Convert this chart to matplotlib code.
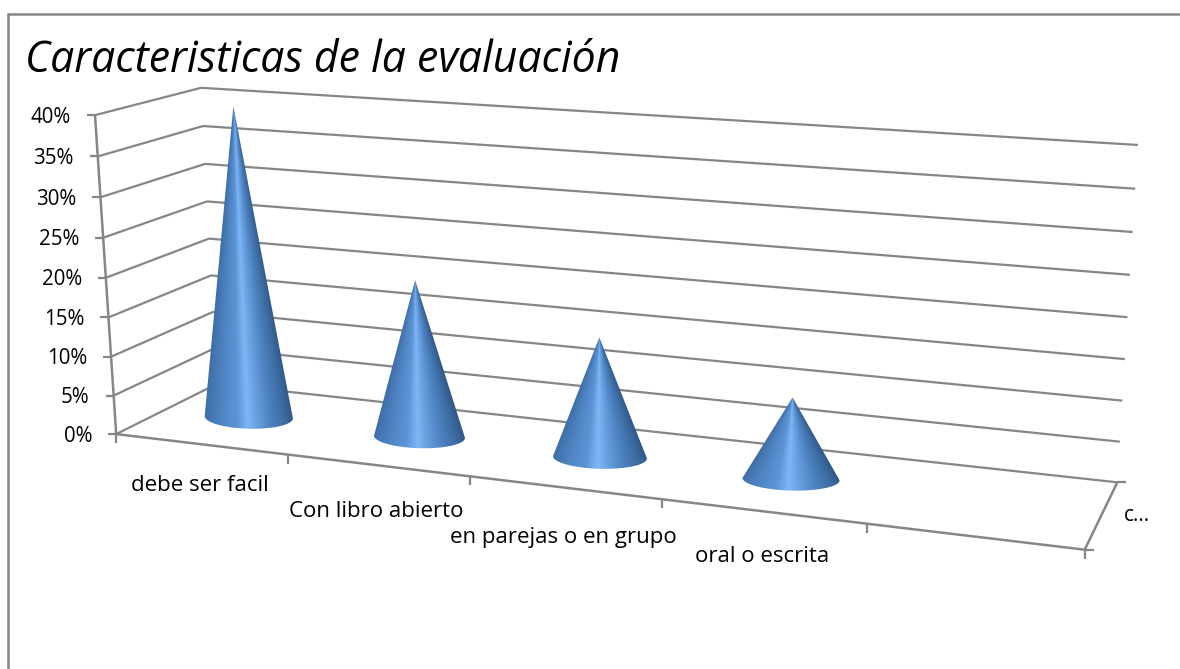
import numpy as np
import matplotlib
matplotlib.use('Agg')
import matplotlib.pyplot as plt
from matplotlib.colors import LinearSegmentedColormap
from matplotlib.patches import Polygon

# Data
title = "Caracteristicas de la evaluación"
categories = ["debe ser facil", "Con libro abierto", "en parejas o en grupo", "oral o escrita", ""]
values = [40, 20, 15, 10, 0]
percent_ticks = [0, 5, 10, 15, 20, 25, 30, 35, 40]
series_name = "c..."

GREY = '#868686'
W, H = 1180, 669
LABEL_DROP = [41, 46, 50, 45, 45]

# Fit the 3D view from the visible corners of the chart box: (category, depth, percent) -> pixel
world = np.array([[0, 0, 0], [0, 0, 40], [0, 1, 40], [0, 1, 0],
                  [5, 1, 40], [5, 1, 0], [5, 0, 0]], dtype=float)
pixel = np.array([[115, 433], [96, 116], [200, 87], [218, 385],
                  [1138, 145], [1117, 482], [1085, 550]], dtype=float)
rows = []
for (a, b, c), (px, py) in zip(world, pixel):
    rows.append([a, b, c, 1, 0, 0, 0, 0, -px * a, -px * b, -px * c, -px])
    rows.append([0, 0, 0, 0, a, b, c, 1, -py * a, -py * b, -py * c, -py])
P = np.linalg.svd(np.array(rows))[2][-1].reshape(3, 4)


def project(cat, depth, pct):
    q = P @ np.array([cat, depth, pct, 1.0])
    return q[0] / q[2], q[1] / q[2]


def seg(ax, a, b, lw=1.6):
    ax.plot([a[0], b[0]], [a[1], b[1]], color=GREY, lw=lw, solid_capstyle='butt', zorder=2)


def cone(ax, i, value, cmap):
    base_x, base_y = project(i + 0.49, 0.5, 0)
    tip_x, tip_y = project(i + 0.49, 0.5, value)
    # base width grows a little with the floor spacing
    spacing = project(i + 1, 0.5, 0)[0] - project(i, 0.5, 0)[0]
    hw = 20 + 0.145 * spacing
    hh = 11.5
    tilt = 0.025

    t = np.linspace(0, np.pi, 60)
    edge_x = base_x + hw * np.cos(t)
    edge_y = base_y + hh * np.sin(t) + tilt * hw * np.cos(t)
    outline = np.column_stack([np.r_[tip_x, edge_x], np.r_[tip_y, edge_y]])

    # shading follows the rays from tip to base
    x0, x1 = base_x - hw - 2, base_x + hw + 2
    y0, y1 = tip_y - 1, base_y + hh + 3
    xs, ys = np.meshgrid(np.linspace(x0, x1, 300), np.linspace(y0, y1, 400))
    frac = np.clip((ys - tip_y) / (base_y - tip_y), 1e-3, None)
    ray = (xs - (tip_x + (base_x - tip_x) * frac)) / (hw * frac)
    shade = np.clip((ray + 1) / 2, 0, 1)
    im = ax.imshow(shade, cmap=cmap, vmin=0, vmax=1, extent=[x0, x1, y1, y0],
                   aspect='auto', zorder=3, interpolation='bilinear')
    im.set_clip_path(Polygon(outline, closed=True, transform=ax.transData))


fig = plt.figure(figsize=(W / 100, H / 100), dpi=100)
ax = fig.add_axes([0, 0, 1, 1])
plt.rcParams['font.family'] = ['Open Sans', 'DejaVu Sans']

# outer chart frame
ax.plot([1180, 8, 8], [14, 14, 669], color=GREY, lw=1.8, solid_joinstyle='miter', zorder=1)

ax.text(25, 72, title, fontsize=30.8, style='italic', color='black', ha='left', va='baseline')

# walls and gridlines
n_cat = len(categories)
for pct in percent_ticks:
    front = project(0, 0, pct)
    corner = project(0, 1, pct)
    seg(ax, front, corner)
    seg(ax, corner, project(n_cat, 1, pct))
    seg(ax, (front[0] - 8, front[1]), front)
    ax.text(front[0] - 24, front[1] + 2, f"{pct}%", fontsize=14.8, ha='right', va='center', color='black')

seg(ax, project(0, 0, 0), project(0, 0, 40), lw=1.8)
seg(ax, project(0, 0, 0), project(n_cat, 0, 0), lw=1.8)
seg(ax, project(n_cat, 0, 0), project(n_cat, 1, 0), lw=1.8)

# category ticks and labels
for i in range(n_cat + 1):
    x, y = project(i, 0, 0)
    seg(ax, (x, y), (x, y + 9))
for i, name in enumerate(categories):
    x, y = project(i + 0.5, 0, 0)
    ax.text(x - 1, y + LABEL_DROP[i], name, fontsize=16, ha='center', va='center', color='black')

# series axis on the right
for depth in [0, 1]:
    x, y = project(n_cat, depth, 0)
    seg(ax, (x, y), (x + 9, y))
x, y = project(n_cat, 0.5, 0)
ax.text(x + 22, y + 1, series_name, fontsize=15, ha='left', va='center', color='black')

cone_cmap = LinearSegmentedColormap.from_list('cone', [
    (0.0, '#3f6fa8'), (0.18, '#4f84c2'), (0.36, '#5b94d6'), (0.48, '#7fb6f6'),
    (0.56, '#6ba3e4'), (0.72, '#4f85c3'), (0.9, '#3b6a9f'), (1.0, '#2f5786')])
for i, v in enumerate(values):
    if v > 0:
        cone(ax, i, v, cone_cmap)

ax.set_xlim(0, W)
ax.set_ylim(H, 0)
ax.axis('off')

fig.savefig('out.png', dpi=100)
